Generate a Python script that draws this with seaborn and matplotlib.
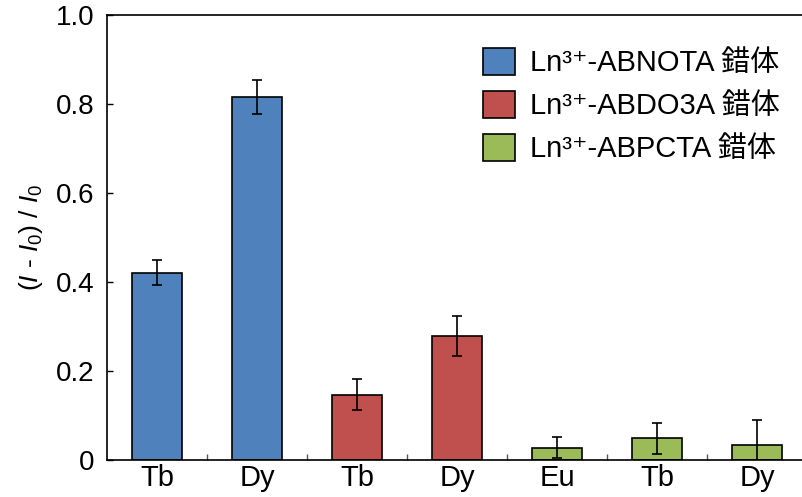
import numpy as np
import pandas as pd
import seaborn as sns
import matplotlib
matplotlib.use("Agg")
import matplotlib.pyplot as plt
from matplotlib.patches import Patch
from matplotlib.ticker import FixedLocator

# ---- data ----
labels = ["Tb", "Dy", "Tb", "Dy", "Eu", "Tb", "Dy"]
series = ["Ln³⁺-ABNOTA 錯体", "Ln³⁺-ABNOTA 錯体",
          "Ln³⁺-ABDO3A 錯体", "Ln³⁺-ABDO3A 錯体",
          "Ln³⁺-ABPCTA 錯体", "Ln³⁺-ABPCTA 錯体", "Ln³⁺-ABPCTA 錯体"]
values = [0.421, 0.816, 0.147, 0.278, 0.028, 0.049, 0.033]
errors = [0.028, 0.038, 0.035, 0.045, 0.023, 0.035, 0.056]
series_names = ["Ln³⁺-ABNOTA 錯体", "Ln³⁺-ABDO3A 錯体", "Ln³⁺-ABPCTA 錯体"]
colors = ["#4F81BD", "#C0504D", "#9BBB59"]
yticks = [0, 0.2, 0.4, 0.6, 0.8, 1.0]
ytick_labels = ["0", "0.2", "0.4", "0.6", "0.8", "1.0"]

sns.set_theme(style="ticks")
FAM = ["Liberation Sans", "DejaVu Sans", "Noto Sans CJK JP"]
plt.rcParams["font.family"] = FAM
plt.rcParams["text.color"] = "black"
plt.rcParams["axes.labelcolor"] = "black"
plt.rcParams["xtick.color"] = "black"
plt.rcParams["ytick.color"] = "black"
plt.rcParams["mathtext.fontset"] = "custom"
plt.rcParams["mathtext.rm"] = "Liberation Sans"
plt.rcParams["mathtext.it"] = "Liberation Sans:italic"
plt.rcParams["mathtext.bf"] = "Liberation Sans:bold"

keys = [f"{l}_{i}" for i, l in enumerate(labels)]
df = pd.DataFrame({"key": keys, "value": values, "series": series})

fig = plt.figure(figsize=(8.02, 4.97), dpi=100)
ax = fig.add_axes([107/802, 37/497, 700/802, 445/497])

palette = dict(zip(series_names, colors))
sns.barplot(data=df, x="key", y="value", hue="series", hue_order=series_names,
            palette=palette, dodge=False, width=0.5, edgecolor="black",
            linewidth=1.2, saturation=1, legend=False, ax=ax, errorbar=None)

ax.errorbar(np.arange(len(values)), values, yerr=errors, fmt="none",
            ecolor="black", elinewidth=1.2, capsize=3.5, capthick=1.2, zorder=5)

ax.set_xlim(-0.5, len(values) - 0.5)
ax.set_ylim(0, 1.0)
ax.set_yticks(yticks)
ax.set_yticklabels(ytick_labels, fontsize=20)
ax.set_xticks(np.arange(len(values)))
ax.set_xticklabels(labels, fontsize=21)
ax.xaxis.set_minor_locator(FixedLocator(np.arange(0.5, len(values) - 0.5, 1)))
ax.tick_params(axis="x", which="major", length=0, pad=3)
ax.tick_params(axis="x", which="minor", direction="in", length=4, width=1, color="#555555")
ax.tick_params(axis="y", direction="in", length=4, width=1, pad=9)
ax.set_xlabel("")
ax.set_ylabel(r"($\mathit{I}$ - $\mathit{I}_\mathrm{0}$) / $\mathit{I}_\mathrm{0}$", fontsize=19, labelpad=8)

for s in ["left", "bottom", "top", "right"]:
    ax.spines[s].set_linewidth(1.2)
    ax.spines[s].set_color("black")
    ax.spines[s].set_visible(True)

handles = [Patch(facecolor=c, edgecolor="black", linewidth=1.2) for c in colors]
ax.legend(handles, series_names, loc="upper left", bbox_to_anchor=(376/700, 1 - 33/445),
          frameon=False, prop={"family": FAM, "size": 21}, handlelength=1.1, handleheight=1.05,
          handletextpad=0.5, labelspacing=0.46, borderaxespad=0, borderpad=0)

fig.savefig("out.png", dpi=100)
